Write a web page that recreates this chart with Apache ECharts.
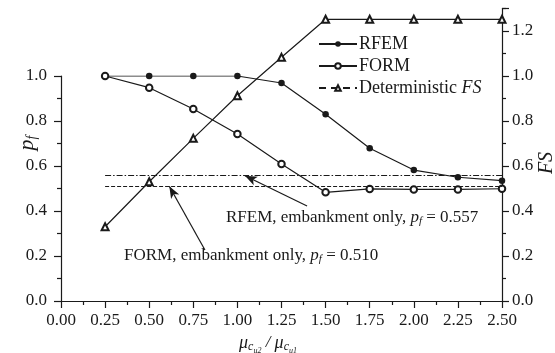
<!DOCTYPE html>
<html><head><meta charset="utf-8">
<script src="https://cdn.jsdelivr.net/npm/echarts@6/dist/echarts.min.js"></script>
<style>html,body{margin:0;padding:0;background:#fff}#c{width:555px;height:353px}</style>
</head><body><div id="c"></div>
<script>
// ---- data ----
const xVals = [0.25, 0.50, 0.75, 1.00, 1.25, 1.50, 1.75, 2.00, 2.25, 2.50];
const rfemPf = [1.0, 1.0, 1.0, 1.0, 0.969, 0.830, 0.679, 0.582, 0.550, 0.535];
const formPf = [1.0, 0.948, 0.853, 0.742, 0.609, 0.483, 0.498, 0.496, 0.496, 0.499];
const detFS  = [0.33, 0.53, 0.723, 0.912, 1.083, 1.252, 1.252, 1.252, 1.252, 1.252];
const refLineX = [0.25, 2.50];
const rfemEmbPf = 0.557;
const formEmbPf = 0.510;
// arrow annotations: [tail, head] in data space
const rfemArrow = [[1.395, 0.422], [1.043, 0.557]];
const formArrow = [[0.816, 0.227], [0.614, 0.510]];
const seriesNames = ['RFEM', 'FORM', 'Deterministic FS'];

const FONT = '"Liberation Serif", "DejaVu Serif", serif';
const INK = '#1a1a1a';
const pair = (xs, ys) => xs.map((x, i) => [x, ys[i]]);

const axisCommon = {
  axisLine: {show: true, onZero: false, lineStyle: {color: INK, width: 1.2}},
  axisTick: {show: true, inside: false, length: 7, lineStyle: {color: INK, width: 1.2}},
  minorTick: {show: true, splitNumber: 2, length: 4, lineStyle: {color: INK, width: 1.2}},
  splitLine: {show: false},
  minorSplitLine: {show: false},
  axisLabel: {fontFamily: FONT, fontSize: 17, color: INK, formatter: v => v.toFixed(1)}
};

const chart = echarts.init(document.getElementById('c'), null, {renderer: 'canvas'});
chart.setOption({
  animation: false,
  backgroundColor: '#fff',
  grid: [
    {left: 61, right: 53, top: 76, bottom: 52},
    {left: 61, right: 53, top: 8.5, bottom: 52}
  ],
  xAxis: [
    Object.assign({}, axisCommon, {gridIndex: 0, type: 'value', min: 0, max: 2.5, interval: 0.25,
      axisLabel: {fontFamily: FONT, fontSize: 17, color: INK, margin: 11, formatter: v => v.toFixed(2)}}),
    {gridIndex: 1, type: 'value', min: 0, max: 2.5, show: false, axisLine: {onZero: false}}
  ],
  yAxis: [
    Object.assign({}, axisCommon, {gridIndex: 0, type: 'value', position: 'left', min: 0, max: 1.0, interval: 0.2,
      axisLabel: Object.assign({}, axisCommon.axisLabel, {margin: 14})}),
    Object.assign({}, axisCommon, {gridIndex: 1, type: 'value', position: 'right', min: 0, max: 1.3, interval: 0.2,
      axisLabel: Object.assign({}, axisCommon.axisLabel, {margin: 10, showMaxLabel: false,
        formatter: v => (v > 1.25 ? '' : v.toFixed(1))})})
  ],
  legend: {
    orient: 'vertical', left: 313, top: 30, itemWidth: 38, itemHeight: 7, itemGap: 4,
    textStyle: {fontFamily: FONT, fontSize: 18, lineHeight: 18, color: INK, padding: [0, 0, 0, -3],
      rich: {i: {fontFamily: FONT, fontSize: 18, lineHeight: 18, fontStyle: 'italic', color: INK}}},
    formatter: n => n === 'Deterministic FS' ? 'Deterministic {i|FS}' : n,
    data: [
      {name: seriesNames[0]},
      {name: seriesNames[1]},
      {name: seriesNames[2], lineStyle: {type: [7, 5]}}
    ]
  },
  series: [
    {
      name: seriesNames[0], type: 'line', xAxisIndex: 0, yAxisIndex: 0,
      data: pair(xVals, rfemPf), symbol: 'circle', symbolSize: 6.5, z: 3,
      itemStyle: {color: INK}, lineStyle: {color: INK, width: 1.2},
      markLine: {
        silent: true, animation: false, label: {show: false},
        data: [
          [{coord: [refLineX[0], rfemEmbPf], symbol: 'none', lineStyle: {type: [6, 2, 1.5, 2], color: INK, width: 1.2}},
           {coord: [refLineX[1], rfemEmbPf], symbol: 'none'}],
          [{coord: [refLineX[0], formEmbPf], symbol: 'none', lineStyle: {type: [4, 2], color: INK, width: 1.2}},
           {coord: [refLineX[1], formEmbPf], symbol: 'none'}],
          [{coord: rfemArrow[0], symbol: 'none', lineStyle: {type: 'solid', color: INK, width: 1.2}},
           {coord: rfemArrow[1], symbol: 'arrow', symbolSize: [7, 12]}],
          [{coord: formArrow[0], symbol: 'none', lineStyle: {type: 'solid', color: INK, width: 1.2}},
           {coord: formArrow[1], symbol: 'arrow', symbolSize: [7, 12]}]
        ]
      }
    },
    {
      name: seriesNames[1], type: 'line', xAxisIndex: 0, yAxisIndex: 0,
      data: pair(xVals, formPf), symbol: 'emptyCircle', symbolSize: 6.5, z: 4,
      itemStyle: {color: INK, borderWidth: 1.2}, lineStyle: {color: INK, width: 1.2}
    },
    {
      name: seriesNames[2], type: 'line', xAxisIndex: 1, yAxisIndex: 1,
      data: pair(xVals, detFS), symbol: 'emptyTriangle', symbolSize: 7, z: 4,
      itemStyle: {color: INK, borderWidth: 1}, lineStyle: {color: INK, width: 1.2}
    }
  ],
  graphic: [
    {type: 'text', x: 27, y: 143, rotation: Math.PI / 2,
      style: {text: '{p|p}{s|f}', textAlign: 'center', textVerticalAlign: 'middle',
        rich: {p: {fontFamily: FONT, fontSize: 22, fontStyle: 'italic', fill: INK},
               s: {fontFamily: FONT, fontSize: 14, fontStyle: 'italic', fill: INK, padding: [10, 0, 0, 0]}}}},
    {type: 'text', x: 547, y: 163, rotation: Math.PI / 2,
      style: {text: 'FS', font: 'italic 20px ' + FONT, fill: INK, textAlign: 'center', textVerticalAlign: 'middle'}},
    {type: 'text', x: 268, y: 343,
      style: {text: '{m|μ}{s|c}{ss|u2}{n| / }{m|μ}{s|c}{ss|u1}', textAlign: 'center', textVerticalAlign: 'middle',
        rich: {m: {fontFamily: FONT, fontSize: 18, fontStyle: 'italic', fill: INK},
               n: {fontFamily: FONT, fontSize: 17, fontStyle: 'italic', fill: INK},
               s: {fontFamily: FONT, fontSize: 12, fontStyle: 'italic', fill: INK, padding: [8, 0, 0, 0]},
               ss: {fontFamily: FONT, fontSize: 8, fontStyle: 'italic', fill: INK, padding: [16, 0, 0, 0]}}}},
    {type: 'text', x: 226, y: 218,
      style: {text: 'RFEM, embankment only, {i|p}{s|f} = 0.557', textVerticalAlign: 'middle',
        font: '17px ' + FONT, fill: INK,
        rich: {i: {fontFamily: FONT, fontSize: 17, fontStyle: 'italic', fill: INK},
               s: {fontFamily: FONT, fontSize: 11, fontStyle: 'italic', fill: INK, padding: [7, 0, 0, 0]}}}},
    {type: 'text', x: 124, y: 256,
      style: {text: 'FORM, embankment only, {i|p}{s|f} = 0.510', textVerticalAlign: 'middle',
        font: '17px ' + FONT, fill: INK,
        rich: {i: {fontFamily: FONT, fontSize: 17, fontStyle: 'italic', fill: INK},
               s: {fontFamily: FONT, fontSize: 11, fontStyle: 'italic', fill: INK, padding: [7, 0, 0, 0]}}}}
  ]
});
</script></body></html>
